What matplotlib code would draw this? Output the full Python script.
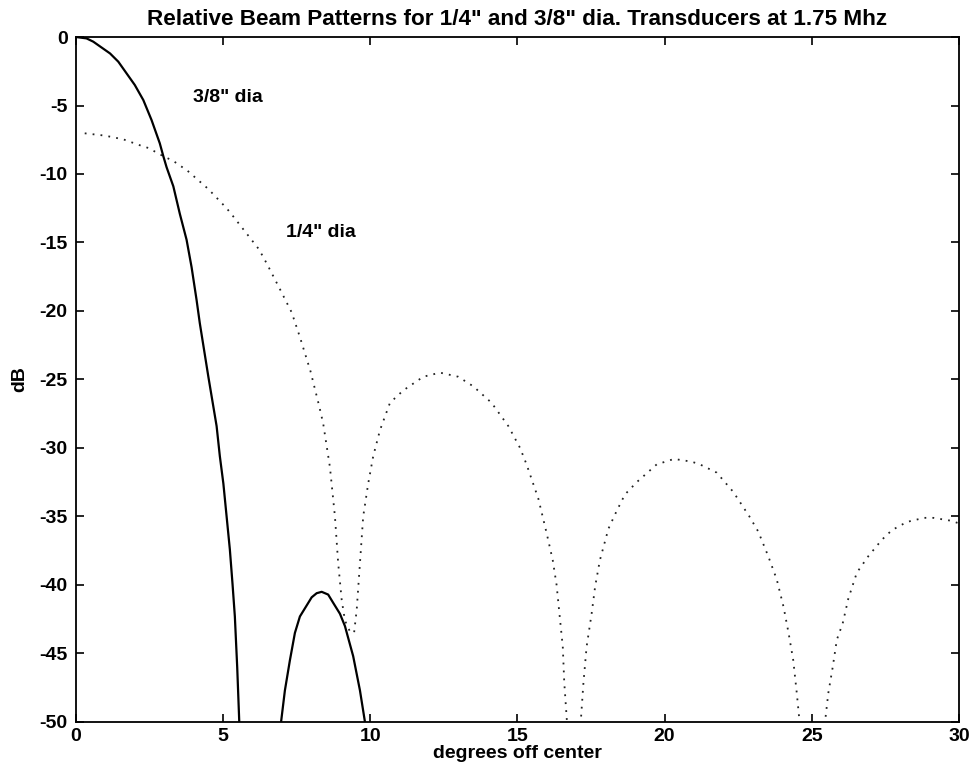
import numpy as np
import matplotlib
matplotlib.use('Agg')
from matplotlib import pyplot as plt

# 3/8" dia transducer (solid) - main lobe and first sidelobe
x38_main = [0.0, 0.36, 0.59, 1.16, 1.44, 1.72, 2.0, 2.29, 2.57, 2.85, 2.97, 3.08, 3.31, 3.53,
            3.76, 3.93, 4.10, 4.21, 4.50, 4.78, 4.89, 5.01, 5.12, 5.23, 5.32, 5.40, 5.48, 5.55]
y38_main = [0.0, -0.1, -0.34, -1.2, -1.8, -2.65, -3.5, -4.6, -6.06, -7.76, -8.7, -9.5, -10.9, -12.9,
            -14.8, -16.8, -19.2, -20.9, -24.8, -28.4, -30.6, -32.6, -35.0, -37.4, -39.9, -42.3, -46.0, -50.0]
x38_side = [6.97, 7.10, 7.27, 7.44, 7.61, 8.01, 8.18, 8.35, 8.57, 8.74, 8.97, 9.14, 9.42, 9.65, 9.82]
y38_side = [-50.0, -47.7, -45.5, -43.5, -42.3, -40.9, -40.6, -40.5, -40.7, -41.3, -42.1, -43.0, -45.2, -47.7, -50.0]

# 1/4" dia transducer (dotted)
x14 = [0.30, 0.99, 1.61, 2.17, 2.46, 2.97, 3.31, 3.79, 4.50, 5.12, 5.31, 6.22, 6.50, 6.93,
       7.33, 7.61, 7.97, 8.26, 8.40, 8.63, 8.80, 8.91, 9.03, 9.14, 9.31,
       9.45, 9.54, 9.65, 9.76, 9.93, 10.10, 10.33, 10.67, 11.12, 11.80, 12.37,
       12.99, 13.50, 14.12, 14.69, 15.09, 15.31, 15.71, 15.99, 16.20, 16.33, 16.45, 16.54,
       16.59, 16.67, 16.92,
       17.16, 17.24, 17.35, 17.52, 17.64, 17.80, 18.09, 18.37, 18.65, 19.05, 19.73, 20.32,
       20.92, 21.20, 21.77, 22.33, 22.88, 23.18, 23.52, 23.81, 24.04, 24.21, 24.37, 24.49,
       24.58, 25.02,
       25.46, 25.56, 25.71, 25.85, 26.05, 26.24, 26.53, 26.92, 27.38, 27.72, 28.23, 28.81,
       29.13, 29.70, 30.0]
y14 = [-7.03, -7.2, -7.47, -7.9, -8.1, -8.7, -9.05, -9.76, -11.1, -12.5, -13.0, -15.5, -16.6, -18.4,
       -20.1, -21.9, -24.4, -26.9, -28.2, -31.4, -35.0, -38.4, -41.1, -42.6, -43.4,
       -43.5, -41.8, -38.4, -35.0, -32.6, -30.6, -28.7, -26.7, -25.8, -24.8, -24.5,
       -24.8, -25.5, -26.7, -28.4, -30.0, -31.2, -33.7, -36.2, -38.2, -40.0, -42.6, -44.5,
       -47.1, -49.6, -58.0,
       -49.7, -47.2, -44.5, -42.1, -40.1, -38.2, -35.9, -34.6, -33.4, -32.5, -31.2, -30.8,
       -31.0, -31.2, -31.8, -33.2, -35.0, -36.1, -37.9, -39.6, -41.6, -43.5, -45.5, -47.9,
       -49.9, -58.0,
       -49.8, -47.9, -46.0, -44.0, -42.8, -41.0, -39.1, -37.9, -36.7, -36.0, -35.4, -35.1,
       -35.1, -35.3, -35.5]

xticks = [0, 5, 10, 15, 20, 25, 30]
yticks = [0, -5, -10, -15, -20, -25, -30, -35, -40, -45, -50]

plt.rcParams['font.family'] = ['Liberation Sans', 'DejaVu Sans']

fig = plt.figure(figsize=(9.73, 7.71), dpi=100)
ax = fig.add_axes([0.078, 0.0636, 0.9076, 0.8884])

ax.plot(x38_main, y38_main, color='black', linewidth=1.6)
ax.plot(x38_side, y38_side, color='black', linewidth=1.6)
ax.plot(x14, y14, color='#222222', linewidth=1.3, linestyle=(0, (1, 3.4)))

ax.set_xlim(0, 30)
ax.set_ylim(-50, 0)
ax.set_xticks(xticks)
ax.set_yticks(yticks)
ax.set_xticklabels([str(t) for t in xticks], fontsize=14, fontweight='bold')
ax.set_yticklabels([str(t) for t in yticks], fontsize=14, fontweight='bold')
ax.tick_params(direction='in', length=6, width=1.2, top=True, right=True)
ax.tick_params(axis='x', pad=4)
ax.tick_params(axis='y', pad=6)
for s in ax.spines.values():
    s.set_linewidth(1.3)

ax.text(3.98, -4.4, '3/8" dia', fontsize=14, fontweight='bold', va='center', ha='left')
ax.text(7.14, -14.3, '1/4" dia', fontsize=14, fontweight='bold', va='center', ha='left')

ax.set_title('Relative Beam Patterns for 1/4" and 3/8" dia. Transducers at 1.75 Mhz',
             fontsize=16.2, fontweight='bold', pad=9)
ax.set_xlabel('degrees off center', fontsize=14, fontweight='bold', labelpad=0)
ax.set_ylabel('dB', fontsize=14, fontweight='bold', labelpad=8)

fig.savefig('out.png', dpi=100)
